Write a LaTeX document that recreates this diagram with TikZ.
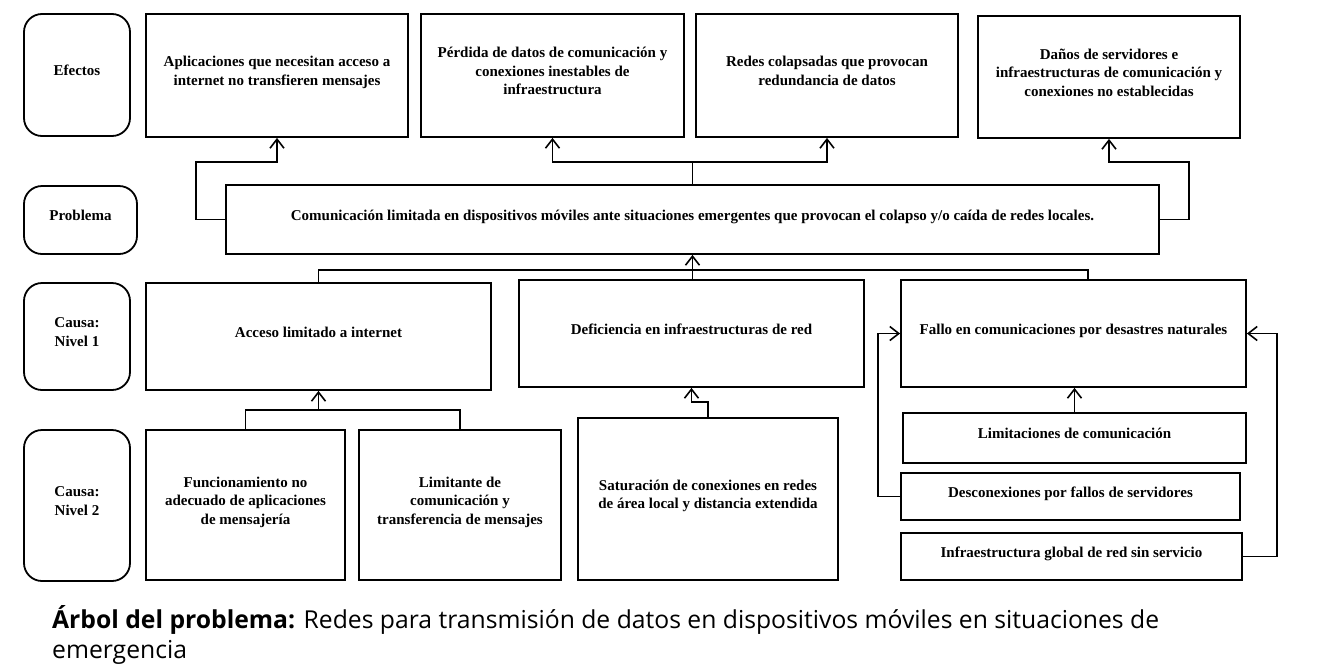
\documentclass[tikz,border=0pt]{standalone}
\usepackage{fontspec}
\setmainfont{Liberation Serif}
\newfontfamily\capfont{Open Sans}
\usetikzlibrary{arrows.meta}

\begin{document}
\begin{tikzpicture} [
                x=1pt,
                y=-1pt,
                box/.style = {draw,line width=1.8pt,inner sep=0pt,align=center,
                              font=\fontsize{15}{18.5}\selectfont\bfseries,text depth=9pt},
                level box/.style = {box,rounded corners=18pt},
                conn/.style = {draw,line width=1.6pt},
                arrow conn/.style = {conn,-{Straight Barb[length=9pt,width=14pt,line width=1.6pt]}}
            ]
            \useasboundingbox (0,0) rectangle (1323,670);
            % First we draw the row labels
            \foreach \pos/\name/\w/\h/\txt in {
                {(77,75)/lblEfe/106/122/Efectos}, {(80.5,220)/lblPro/113/68/Problema},
                {(77,336.5)/lblNivA/106/107/{Causa:\\Nivel 1}}, {(77,505.5)/lblNivB/106/151/{Causa:\\Nivel 2}}}
                \node[level box,minimum width=\w pt,minimum height=\h pt] (\name) at \pos {\txt};
            % Then the boxes of the tree
            \foreach \pos/\name/\w/\h/\txt in {
                {(277,75.5)/efA/262/123/{Aplicaciones que necesitan acceso a\\internet no transfieren mensajes}},
                {(552.5,75.5)/efB/263/123/{Pérdida de datos de comunicación y\\conexiones inestables de\\infraestructura}},
                {(827,75.5)/efC/262/123/{Redes colapsadas que provocan\\redundancia de datos}},
                {(1109,77)/efD/262/122/{Daños de servidores e\\infraestructuras de comunicación y\\conexiones no establecidas}},
                {(318.5,336.5)/caA/345/107/{Acceso limitado a internet}},
                {(691.5,333.5)/caB/345/107/{Deficiencia en infraestructuras de red}},
                {(1073.5,333.5)/caC/345/107/{Fallo en comunicaciones por desastres naturales}},
                {(245.5,505)/subA/199/150/{Funcionamiento no\\adecuado de aplicaciones\\de mensajería}},
                {(460,505)/subB/202/150/{Limitante de\\comunicación y\\transferencia de mensajes}},
                {(708,499)/subC/260/162/{Saturación de conexiones en redes\\de área local y distancia extendida}},
                {(1074.5,438)/subD/343/50/{Limitaciones de comunicación}},
                {(1070.5,496.5)/subE/339/47/{Desconexiones por fallos de servidores}},
                {(1071.5,556.5)/subF/341/47/{Infraestructura global de red sin servicio}}}
                \node[box,minimum width=\w pt,minimum height=\h pt] (\name) at \pos {\txt};
            \node[box,minimum width=933pt,minimum height=69pt] (prob) at (692.5,219.5)
                {Comunicación limitada en dispositivos móviles ante situaciones emergentes que provocan el colapso y/o caída de redes locales.};
            % Problem to effects
            \coordinate (jA) at (196,162);
            \coordinate (jB) at (692.5,162);
            \coordinate (jC) at (1189,162);
            \path[arrow conn] (prob.west) -| (jA) -| (efA.south);
            \path[conn] (prob.north) -- (jB);
            \foreach \dest in {efB,efC}
                \path[arrow conn] (jB) -| (\dest.south);
            \path[arrow conn] (prob.east) -| (jC) -| (efD.south);
            % Causes to problem
            \coordinate (kA) at (1088,270);
            \path[conn] (caA.north) |- (kA) -- (kA |- caC.north);
            \path[arrow conn] (caB.north) -- (caB.north -| prob.south) -- (prob.south);
            % Second level to first level
            \coordinate (mA) at (318.5,410);
            \path[conn] (subA.north) |- (subB.north |- mA) -- (subB.north);
            \path[arrow conn] (mA) -- (caA.south);
            \path[arrow conn] (subC.north) -- ++(0,-15) -| (caB.south);
            \path[arrow conn] (subD.north) -- (subD.north |- caC.south);
            \path[arrow conn] (subE.west) -- ++(-22,0) |- (caC.west);
            \path[arrow conn] (subF.east) -- ++(34,0) |- (caC.east);
            % Caption
            \node[anchor=base west,align=left,inner sep=0pt,font=\capfont\fontsize{24.7}{30}\selectfont] (cap) at (52,658)
                {\textbf{Árbol del problema:} Redes para transmisión de datos en dispositivos móviles en situaciones de\\emergencia};
        \end{tikzpicture}
\end{document}
